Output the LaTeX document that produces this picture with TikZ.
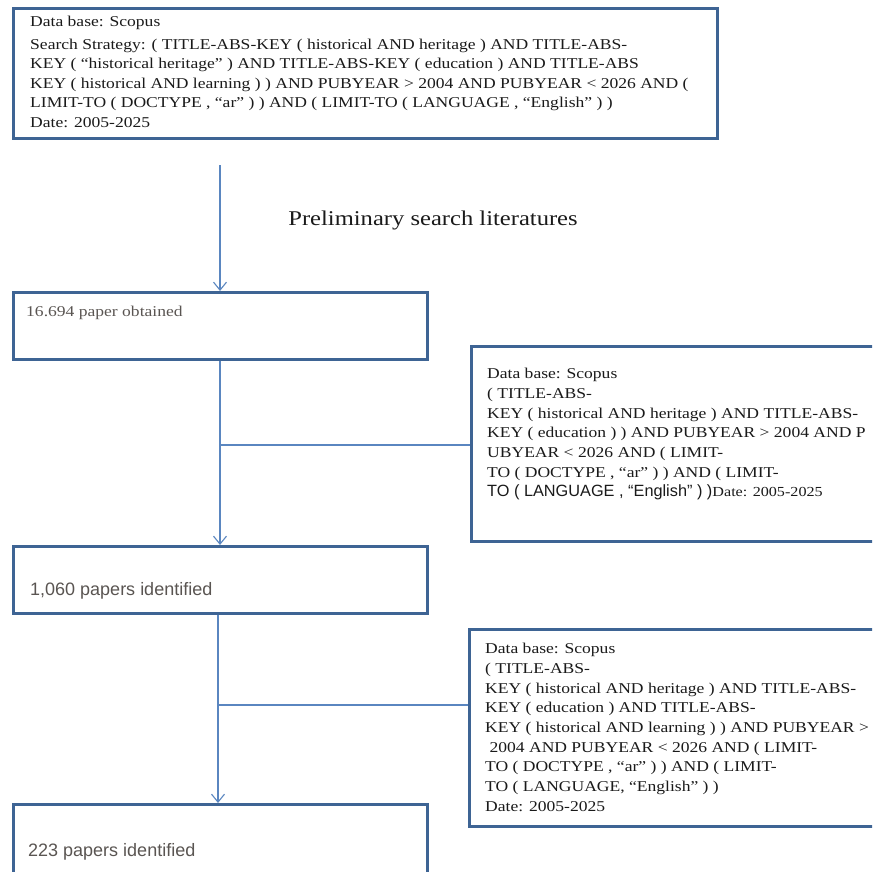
\documentclass[tikz,border=0pt]{standalone}
\usepackage{fontspec}
\setmainfont{Liberation Serif}
\setsansfont{Liberation Sans}
\newfontfamily\wserif[FakeStretch=1.17]{Liberation Serif}
\usetikzlibrary{arrows.meta}
\definecolor{boxblue}{HTML}{3E6494}
\definecolor{arrblue}{HTML}{5A86C0}
\definecolor{txt}{HTML}{1A1A1A}
\definecolor{graytxt}{HTML}{5A5552}
\begin{document}
\begin{tikzpicture}[x=1pt,y=-1pt,
  box/.style={draw=boxblue,line width=2.6pt,rectangle,inner sep=0pt},
  arr/.style={draw=arrblue,line width=1.1pt,-{Straight Barb[length=8pt,width=13pt,line width=1.1pt]}},
  ln/.style={draw=arrblue,line width=1.1pt},
  qtxt/.style={anchor=north west,align=left,inner sep=0pt,text=txt,font=\wserif\fontsize{15}{19.5}\selectfont},
  qtxtb/.style={anchor=north west,align=left,inner sep=0pt,text=txt,font=\wserif\fontsize{15}{19.7}\selectfont},
  ntxt/.style={anchor=base west,inner sep=0pt,font=\sffamily\fontsize{18}{20}\selectfont,text=graytxt}]
\useasboundingbox (0,0) rectangle (872,872);
\clip (0,0) rectangle (872,872);
\fill[white] (0,0) rectangle (872,872);
% top box
\node[box,minimum width=704pt,minimum height=130pt,anchor=north west] (top) at (12,7) {};
\node[qtxt] (toptxt) at (30,16) {Data base: Scopus\\[3pt]
Search Strategy: ( TITLE-ABS-KEY ( historical AND heritage ) AND TITLE-ABS-\\
KEY ( “historical heritage” ) AND TITLE-ABS-KEY ( education ) AND TITLE-ABS\\
KEY ( historical AND learning ) ) AND PUBYEAR > 2004 AND PUBYEAR < 2026 AND (\\
LIMIT-TO ( DOCTYPE , “ar” ) ) AND ( LIMIT-TO ( LANGUAGE , “English” ) )\\
Date: 2005-2025};
% label
\node[anchor=center,inner sep=0pt,text=txt,font=\wserif\fontsize{21}{24}\selectfont] (prelim) at (433,220) {Preliminary search literatures};
% box 2
\node[box,minimum width=414pt,minimum height=67pt,anchor=north west] (b2) at (12,291) {};
\node[anchor=base west,inner sep=0pt,font=\wserif\fontsize{15}{19}\selectfont,text=graytxt] (b2t) at (26,316) {16.694 paper obtained};
% box 3
\node[box,minimum width=414pt,minimum height=67pt,anchor=north west] (b3) at (12,545) {};
\node[ntxt] (b3t) at (30,595) {1,060 papers identified};
% box 4
\node[box,minimum width=414pt,minimum height=90pt,anchor=north west] (b4) at (12,803) {};
\node[ntxt] (b4t) at (28,856) {223 papers identified};
% right box 1
\node[box,minimum width=420pt,minimum height=195pt,anchor=north west] (r1) at (470,345) {};
\node[qtxtb] (r1t) at (487,368) {Data base: Scopus\\
( TITLE-ABS-\\
KEY ( historical AND heritage ) AND TITLE-ABS-\\
KEY ( education ) ) AND PUBYEAR > 2004 AND P\\
UBYEAR < 2026 AND ( LIMIT-\\
TO ( DOCTYPE , “ar” ) ) AND ( LIMIT-\\
{\sffamily\fontsize{16.3}{19.7}\selectfont TO ( LANGUAGE , “English” ) )}{\fontsize{13.8}{19.7}\selectfont Date: 2005-2025}};
% right box 2
\node[box,minimum width=420pt,minimum height=197pt,anchor=north west] (r2) at (468,628) {};
\node[qtxtb] (r2t) at (485,643) {Data base: Scopus\\
( TITLE-ABS-\\
KEY ( historical AND heritage ) AND TITLE-ABS-\\
KEY ( education ) AND TITLE-ABS-\\
KEY ( historical AND learning ) ) AND PUBYEAR >\\
\ 2004 AND PUBYEAR < 2026 AND ( LIMIT-\\
TO ( DOCTYPE , “ar” ) ) AND ( LIMIT-\\
TO ( LANGUAGE, “English” ) )\\
Date: 2005-2025};
% connectors
\coordinate (s1) at (220,165);
\coordinate (j1) at (220,445);
\coordinate (j2) at (218,705);
\draw[arr] (s1) -- (s1 |- b2.north);
\draw[arr] (b2.south -| s1) -- (b3.north -| s1);
\draw[ln] (j1) -- (j1 -| r1.west);
\draw[arr] (b3.south -| j2) -- (b4.north -| j2);
\draw[ln] (j2) -- (j2 -| r2.west);
\end{tikzpicture}
\end{document}
